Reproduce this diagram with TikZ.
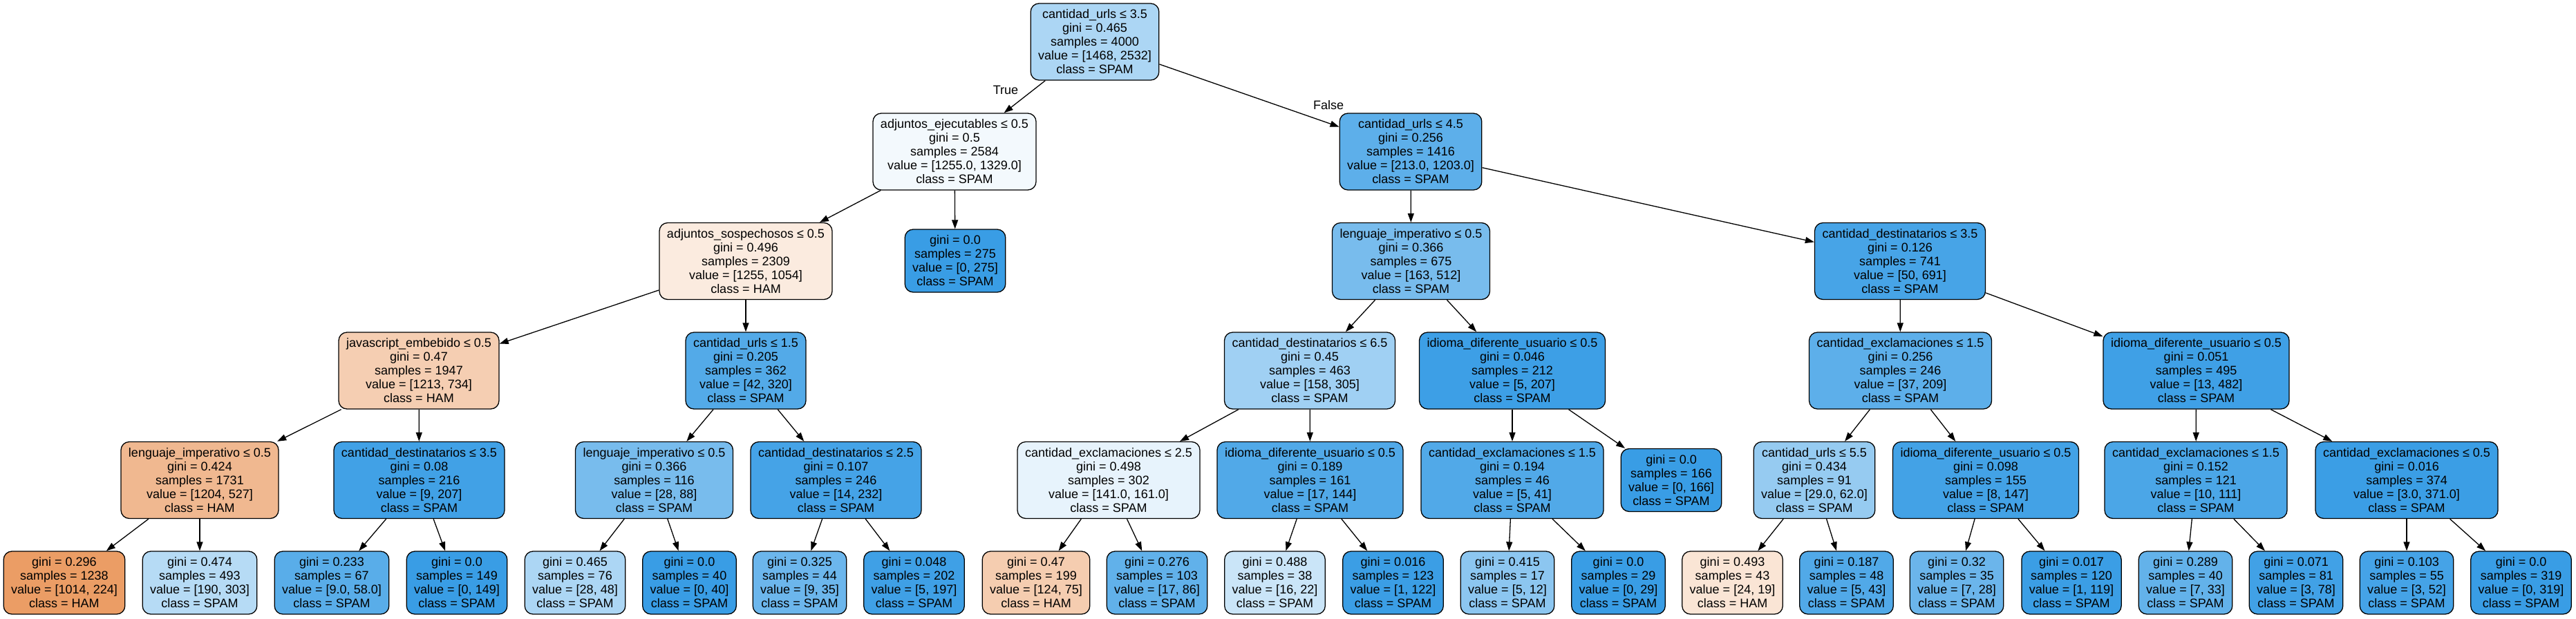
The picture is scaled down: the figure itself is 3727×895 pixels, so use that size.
\documentclass[tikz,border=0pt]{standalone}
\usepackage{fontspec}
\setmainfont{Liberation Sans}
\usetikzlibrary{arrows.meta}
\definecolor{ham}{RGB}{229,129,57}
\definecolor{spam}{RGB}{57,157,229}
\tikzset{test node/.style={draw,rounded corners=12pt,align=center,line width=1.3pt,inner xsep=11pt,inner ysep=2pt,minimum height=111pt,font=\fontsize{18}{20}\selectfont},
leaf node/.style={test node,minimum height=91pt},}

\begin{document}
\begin{tikzpicture}[x=1pt,y=-1pt,>={Triangle[length=13pt,width=9pt]}]
    \useasboundingbox (0,0) rectangle (3727,895);
    % level 0 and 1
    \node[test node,fill=spam!42!white] (0) at (1584,60.5) {cantidad\_urls ≤ 3.5\\gini = 0.465\\samples = 4000\\value = [1468, 2532]\\class = SPAM};
    \node[test node,fill=spam!6!white] (1) at (1381,219.5) {adjuntos\_ejecutables ≤ 0.5\\gini = 0.5\\samples = 2584\\value = [1255.0, 1329.0]\\class = SPAM};
    \node[test node,fill=spam!82!white] (18) at (2041,219.5) {cantidad\_urls ≤ 4.5\\gini = 0.256\\samples = 1416\\value = [213.0, 1203.0]\\class = SPAM};
    \node[font=\fontsize{18}{20}\selectfont] (t) at (1455,130) {True};
    \node[font=\fontsize{18}{20}\selectfont] (f) at (1922,152) {False};
    % level 2
    \node[test node,fill=ham!16!white] (2) at (1079,378) {adjuntos\_sospechosos ≤ 0.5\\gini = 0.496\\samples = 2309\\value = [1255, 1054]\\class = HAM};
    \node[leaf node,fill=spam] (17) at (1382,377.5) {gini = 0.0\\samples = 275\\value = [0, 275]\\class = SPAM};
    \node[test node,fill=spam!68!white] (19) at (2041.5,378) {lenguaje\_imperativo ≤ 0.5\\gini = 0.366\\samples = 675\\value = [163, 512]\\class = SPAM};
    \node[test node,fill=spam!93!white] (32) at (2749,378) {cantidad\_destinatarios ≤ 3.5\\gini = 0.126\\samples = 741\\value = [50, 691]\\class = SPAM};
    % level 3
    \node[test node,fill=ham!39!white] (3) at (606,536.5) {javascript\_embebido ≤ 0.5\\gini = 0.47\\samples = 1947\\value = [1213, 734]\\class = HAM};
    \node[test node,fill=spam!87!white] (10) at (1079,536.5) {cantidad\_urls ≤ 1.5\\gini = 0.205\\samples = 362\\value = [42, 320]\\class = SPAM};
    \node[test node,fill=spam!48!white] (20) at (1895,536.5) {cantidad\_destinatarios ≤ 6.5\\gini = 0.45\\samples = 463\\value = [158, 305]\\class = SPAM};
    \node[test node,fill=spam!98!white] (27) at (2188,536.5) {idioma\_diferente\_usuario ≤ 0.5\\gini = 0.046\\samples = 212\\value = [5, 207]\\class = SPAM};
    \node[test node,fill=spam!82!white] (33) at (2749.5,536.5) {cantidad\_exclamaciones ≤ 1.5\\gini = 0.256\\samples = 246\\value = [37, 209]\\class = SPAM};
    \node[test node,fill=spam!97!white] (40) at (3177.5,536.5) {idioma\_diferente\_usuario ≤ 0.5\\gini = 0.051\\samples = 495\\value = [13, 482]\\class = SPAM};
    % level 4
    \node[test node,fill=ham!56!white] (4) at (289,695) {lenguaje\_imperativo ≤ 0.5\\gini = 0.424\\samples = 1731\\value = [1204, 527]\\class = HAM};
    \node[test node,fill=spam!96!white] (7) at (606.5,695) {cantidad\_destinatarios ≤ 3.5\\gini = 0.08\\samples = 216\\value = [9, 207]\\class = SPAM};
    \node[test node,fill=spam!68!white] (11) at (946.5,695) {lenguaje\_imperativo ≤ 0.5\\gini = 0.366\\samples = 116\\value = [28, 88]\\class = SPAM};
    \node[test node,fill=spam!94!white] (14) at (1209.5,695) {cantidad\_destinatarios ≤ 2.5\\gini = 0.107\\samples = 246\\value = [14, 232]\\class = SPAM};
    \node[test node,fill=spam!12!white] (21) at (1604,695) {cantidad\_exclamaciones ≤ 2.5\\gini = 0.498\\samples = 302\\value = [141.0, 161.0]\\class = SPAM};
    \node[test node,fill=spam!88!white] (24) at (1895.5,695) {idioma\_diferente\_usuario ≤ 0.5\\gini = 0.189\\samples = 161\\value = [17, 144]\\class = SPAM};
    \node[test node,fill=spam!88!white] (28) at (2188,695) {cantidad\_exclamaciones ≤ 1.5\\gini = 0.194\\samples = 46\\value = [5, 41]\\class = SPAM};
    \node[leaf node,fill=spam] (31) at (2418,695) {gini = 0.0\\samples = 166\\value = [0, 166]\\class = SPAM};
    \node[test node,fill=spam!53!white] (34) at (2625,695) {cantidad\_urls ≤ 5.5\\gini = 0.434\\samples = 91\\value = [29.0, 62.0]\\class = SPAM};
    \node[test node,fill=spam!95!white] (37) at (2873,695) {idioma\_diferente\_usuario ≤ 0.5\\gini = 0.098\\samples = 155\\value = [8, 147]\\class = SPAM};
    \node[test node,fill=spam!91!white] (41) at (3177,695) {cantidad\_exclamaciones ≤ 1.5\\gini = 0.152\\samples = 121\\value = [10, 111]\\class = SPAM};
    \node[test node,fill=spam!99!white] (44) at (3482,695) {cantidad\_exclamaciones ≤ 0.5\\gini = 0.016\\samples = 374\\value = [3.0, 371.0]\\class = SPAM};
    % leaves
    \node[leaf node,fill=ham!78!white] (5) at (93,843.5) {gini = 0.296\\samples = 1238\\value = [1014, 224]\\class = HAM};
    \node[leaf node,fill=spam!37!white] (6) at (289,843.5) {gini = 0.474\\samples = 493\\value = [190, 303]\\class = SPAM};
    \node[leaf node,fill=spam!84!white] (8) at (480,843.5) {gini = 0.233\\samples = 67\\value = [9.0, 58.0]\\class = SPAM};
    \node[leaf node,fill=spam] (9) at (661,843.5) {gini = 0.0\\samples = 149\\value = [0, 149]\\class = SPAM};
    \node[leaf node,fill=spam!42!white] (12) at (832,843.5) {gini = 0.465\\samples = 76\\value = [28, 48]\\class = SPAM};
    \node[leaf node,fill=spam] (13) at (997.5,843.5) {gini = 0.0\\samples = 40\\value = [0, 40]\\class = SPAM};
    \node[leaf node,fill=spam!74!white] (15) at (1157,843.5) {gini = 0.325\\samples = 44\\value = [9, 35]\\class = SPAM};
    \node[leaf node,fill=spam!97!white] (16) at (1322.5,843.5) {gini = 0.048\\samples = 202\\value = [5, 197]\\class = SPAM};
    \node[leaf node,fill=ham!40!white] (22) at (1499,843.5) {gini = 0.47\\samples = 199\\value = [124, 75]\\class = HAM};
    \node[leaf node,fill=spam!80!white] (23) at (1674,843.5) {gini = 0.276\\samples = 103\\value = [17, 86]\\class = SPAM};
    \node[leaf node,fill=spam!27!white] (25) at (1844.5,843.5) {gini = 0.488\\samples = 38\\value = [16, 22]\\class = SPAM};
    \node[leaf node,fill=spam!99!white] (26) at (2015.5,843.5) {gini = 0.016\\samples = 123\\value = [1, 122]\\class = SPAM};
    \node[leaf node,fill=spam!58!white] (29) at (2181,843.5) {gini = 0.415\\samples = 17\\value = [5, 12]\\class = SPAM};
    \node[leaf node,fill=spam] (30) at (2341.5,843.5) {gini = 0.0\\samples = 29\\value = [0, 29]\\class = SPAM};
    \node[leaf node,fill=ham!21!white] (35) at (2506.5,843.5) {gini = 0.493\\samples = 43\\value = [24, 19]\\class = HAM};
    \node[leaf node,fill=spam!88!white] (36) at (2671.5,843.5) {gini = 0.187\\samples = 48\\value = [5, 43]\\class = SPAM};
    \node[leaf node,fill=spam!75!white] (38) at (2831,843.5) {gini = 0.32\\samples = 35\\value = [7, 28]\\class = SPAM};
    \node[leaf node,fill=spam!99!white] (39) at (2997,843.5) {gini = 0.017\\samples = 120\\value = [1, 119]\\class = SPAM};
    \node[leaf node,fill=spam!79!white] (42) at (3162,843.5) {gini = 0.289\\samples = 40\\value = [7, 33]\\class = SPAM};
    \node[leaf node,fill=spam!96!white] (43) at (3322,843.5) {gini = 0.071\\samples = 81\\value = [3, 78]\\class = SPAM};
    \node[leaf node,fill=spam!94!white] (45) at (3482,843.5) {gini = 0.103\\samples = 55\\value = [3, 52]\\class = SPAM};
    \node[leaf node,fill=spam] (46) at (3647.5,843.5) {gini = 0.0\\samples = 319\\value = [0, 319]\\class = SPAM};

    \path[->,line width=1.3pt]
	(0) edge (1)
	(0) edge (18)
	(1) edge (2)
	(1) edge (17)
	(2) edge (3)
	(2) edge (10)
	(3) edge (4)
	(3) edge (7)
	(4) edge (5)
	(4) edge (6)
	(7) edge (8)
	(7) edge (9)
	(10) edge (11)
	(10) edge (14)
	(11) edge (12)
	(11) edge (13)
	(14) edge (15)
	(14) edge (16)
	(18) edge (19)
	(18) edge (32)
	(19) edge (20)
	(19) edge (27)
	(20) edge (21)
	(20) edge (24)
	(21) edge (22)
	(21) edge (23)
	(24) edge (25)
	(24) edge (26)
	(27) edge (28)
	(27) edge (31)
	(28) edge (29)
	(28) edge (30)
	(32) edge (33)
	(32) edge (40)
	(33) edge (34)
	(33) edge (37)
	(34) edge (35)
	(34) edge (36)
	(37) edge (38)
	(37) edge (39)
	(40) edge (41)
	(40) edge (44)
	(41) edge (42)
	(41) edge (43)
	(44) edge (45)
	(44) edge (46);
\end{tikzpicture}
\end{document}
